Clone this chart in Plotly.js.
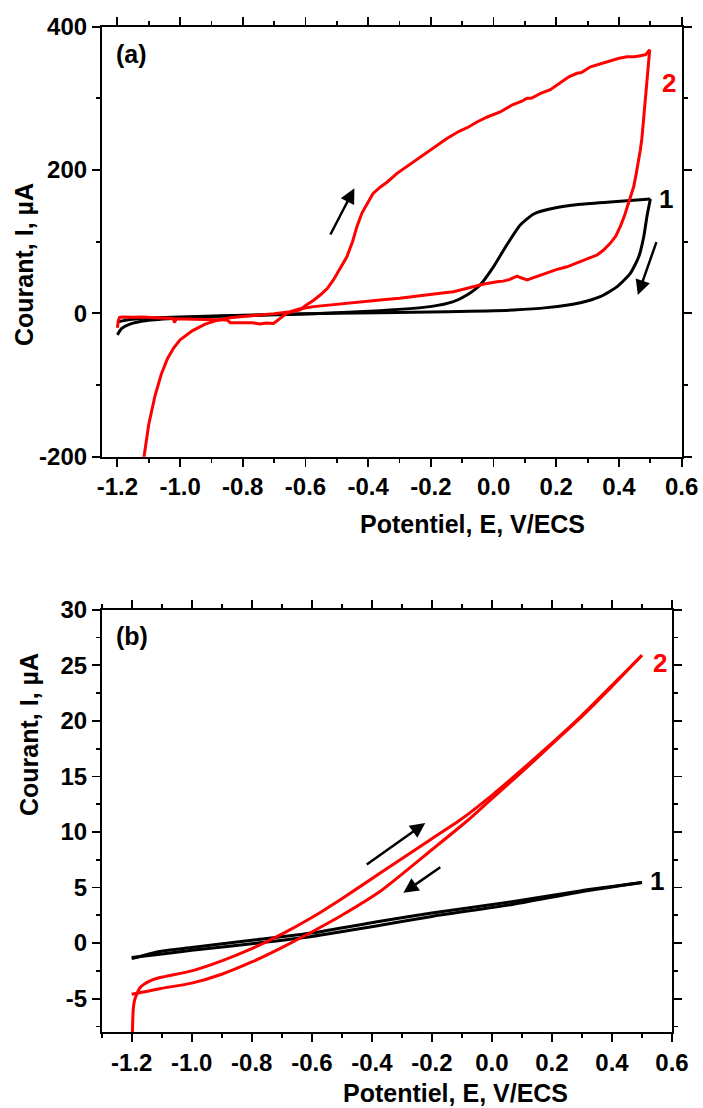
<!DOCTYPE html>
<html>
<head>
<meta charset="utf-8">
<script src="https://cdn.plot.ly/plotly-3.0.1.min.js"></script>
<style>html,body{margin:0;padding:0;background:#fff;}#chart{width:703px;height:1108px;}</style>
</head>
<body>
<div id="chart"></div>
<script>
// ---------- Panel (a) data ----------
const aBlackFwdX = [-1.200,-1.186,-1.160,-1.106,-1.000,-0.900,-0.787,-0.650,-0.500,-0.362,-0.202,-0.128,-0.085,-0.043,0.000,0.042,0.085,0.128,0.191,0.277,0.383,0.500];
const aBlackFwdY = [-30,-21,-15,-10,-6.4,-4.5,-3.2,-1.5,0.8,3.8,9.4,16.3,25.6,39.6,65.2,95.4,123.3,138.7,146.6,152.1,155.9,159.6];
const aBlackRevX = [0.500,0.489,0.479,0.463,0.436,0.394,0.340,0.277,0.170,0.064,-0.149,-0.362,-0.649,-0.894,-1.000,-1.106,-1.160,-1.197];
const aBlackRevY = [159.6,134.9,107,79.1,55.9,37.3,23.3,14.9,8.0,4.7,2.4,1.0,-0.9,-3.6,-5,-6.9,-8.5,-11.6];

const aRedFwdX = [-1.200,-1.197,-1.193,-1.180,-1.150,-1.120,-1.080,-1.040,-1.022,-1.018,-1.012,-0.990,-0.940,-0.880,-0.850,-0.840,-0.800,-0.770,-0.745,-0.725,-0.702,-0.690,-0.675,-0.660,-0.640,-0.617,-0.596,-0.575,-0.553,-0.530,-0.511,-0.490,-0.468,-0.450,-0.436,-0.420,-0.404,-0.385,-0.362,-0.340,-0.309,-0.280,-0.255,-0.220,-0.190,-0.149,-0.110,-0.080,-0.053,-0.020,0.021,0.060,0.090,0.106,0.120,0.150,0.181,0.200,0.213,0.240,0.266,0.280,0.309,0.340,0.360,0.383,0.400,0.426,0.450,0.468,0.485,0.498];
const aRedFwdY = [-20,-10,-5.5,-5,-5.5,-5.2,-6,-6.5,-7,-13,-7.5,-7.8,-8,-8.5,-9.2,-13,-13.5,-13,-14.8,-13.5,-14,-10,-4,0,2.5,5,12,18,25.6,35,46.6,62,79,100,121,140,153,167,176,183,195,204,212,222,232,244,254,260,267,274,281,291,296,300,300,307,312,318,321,330,335,336,344,348,350,354,356,358,358,359.5,361,368];
const aRedRevX = [0.498,0.495,0.492,0.488,0.484,0.478,0.473,0.468,0.463,0.455,0.447,0.431,0.418,0.404,0.390,0.372,0.350,0.330,0.300,0.277,0.250,0.234,0.200,0.170,0.140,0.107,0.085,0.075,0.064,0.050,0.030,0.011,-0.030,-0.064,-0.100,-0.128,-0.170,-0.213,-0.255,-0.300,-0.362,-0.420,-0.468,-0.520,-0.574,-0.620,-0.649,-0.700,-0.750,-0.800,-0.840,-0.880,-0.920,-0.960,-1.000,-1.020,-1.040,-1.060,-1.080,-1.100,-1.117,-1.125];
const aRedRevY = [368,352,339.5,318,293,268,244,228,214,195,177,153.5,137,121,108,97.7,88,81.4,76,72,68,65,61,56,52,46.6,50,52,50,47,45,44.2,41,37.3,34,30.3,28,25.6,23.3,21,18.7,16,14,12,9.4,6,2.4,-0.5,-2.5,-4,-6,-9.5,-15,-24,-37,-48,-63,-85,-115,-155,-200,-230];

// ---------- Panel (b) data ----------
const bBlackFwdX = [-1.200,-1.106,-1.000,-0.800,-0.600,-0.372,-0.200,0.072,0.294,0.500];
const bBlackFwdY = [-1.4,-0.75,-0.4,0.25,0.9,1.97,2.7,3.75,4.7,5.45];
const bBlackRevX = [0.500,0.294,0.072,-0.200,-0.372,-0.600,-0.800,-1.000,-1.106,-1.200];
const bBlackRevY = [5.45,4.6,3.5,2.4,1.6,0.6,-0.05,-0.65,-1.0,-1.3];

const bRedFwdX = [-1.198,-1.195,-1.190,-1.172,-1.139,-1.106,-1.000,-0.900,-0.800,-0.700,-0.600,-0.500,-0.372,-0.200,-0.105,0.000,0.100,0.200,0.300,0.400,0.500];
const bRedFwdY = [-8.5,-6.0,-5.1,-4.0,-3.4,-3.1,-2.5,-1.6,-0.5,0.8,2.3,4.0,6.3,9.4,11.1,13.3,15.6,18.0,20.5,23.2,25.9];
const bRedRevX = [0.500,0.400,0.300,0.200,0.100,0.000,-0.078,-0.200,-0.372,-0.500,-0.600,-0.700,-0.800,-0.900,-1.000,-1.106,-1.200];
const bRedRevY = [25.9,23.1,20.4,17.9,15.4,13.0,11.1,8.4,4.66,2.5,1.0,-0.4,-1.7,-2.8,-3.6,-4.1,-4.6];

// ---------- Tick labels ----------
const aXTickVals = [-1.2,-1.0,-0.8,-0.6,-0.4,-0.2,0.0,0.2,0.4,0.6];
const aXTickText = ["-1.2","-1.0","-0.8","-0.6","-0.4","-0.2","0.0","0.2","0.4","0.6"];
const aXMinorVals = [-1.1,-0.9,-0.7,-0.5,-0.3,-0.1,0.1,0.3,0.5];
const aYTickVals = [-200,0,200,400];
const aYTickText = ["-200","0","200","400"];
const aYMinorVals = [-100,100,300];
const bXTickVals = [-1.2,-1.0,-0.8,-0.6,-0.4,-0.2,0.0,0.2,0.4,0.6];
const bXTickText = ["-1.2","-1.0","-0.8","-0.6","-0.4","-0.2","0.0","0.2","0.4","0.6"];
const bXMinorVals = [-1.3,-1.1,-0.9,-0.7,-0.5,-0.3,-0.1,0.1,0.3,0.5];
const bYTickVals = [-5,0,5,10,15,20,25,30];
const bYTickText = ["-5","0","5","10","15","20","25","30"];
const bYMinorVals = [-7.5,-2.5,2.5,7.5,12.5,17.5,22.5,27.5];

const W = 703, H = 1108;
const FONT = 'Liberation Sans, Arial, Helvetica, sans-serif';
const px = v => v / W;
const py = v => 1 - v / H;

function line(x, y, color, xa, ya, shape) {
  return {x: x, y: y, xaxis: xa, yaxis: ya, type: 'scatter', mode: 'lines',
          line: {color: color, width: 3, shape: shape || 'linear', smoothing: 0.6},
          hoverinfo: 'skip'};
}

const traces = [
  line(aBlackFwdX, aBlackFwdY, '#000000', 'x', 'y', 'spline'),
  line(aBlackRevX, aBlackRevY, '#000000', 'x', 'y', 'spline'),
  line(aRedFwdX, aRedFwdY, '#ff0000', 'x', 'y'),
  line(aRedRevX, aRedRevY, '#ff0000', 'x', 'y'),
  line(bBlackFwdX, bBlackFwdY, '#000000', 'x2', 'y2', 'spline'),
  line(bBlackRevX, bBlackRevY, '#000000', 'x2', 'y2', 'spline'),
  line(bRedFwdX, bRedFwdY, '#ff0000', 'x2', 'y2', 'spline'),
  line(bRedRevX, bRedRevY, '#ff0000', 'x2', 'y2', 'spline')
];

const tickFont = {family: FONT, size: 24, color: '#000', weight: 'bold'};
function axis(extra) {
  return Object.assign({
    showline: true, linecolor: '#000', linewidth: 1.8, mirror: 'allticks',
    ticks: 'outside', ticklen: 8, tickwidth: 1.8, tickcolor: '#000',
    showgrid: false, zeroline: false, tickfont: tickFont, tickmode: 'array',
    fixedrange: true
  }, extra);
}
function minor(vals) {
  return {tickmode: 'array', tickvals: vals, ticks: 'outside', ticklen: 4, tickwidth: 1.8, tickcolor: '#000', showgrid: false};
}
const titleFont = {family: FONT, size: 25, color: '#000', weight: 'bold'};

const layout = {
  width: W, height: H,
  margin: {l: 0, r: 0, t: 0, b: 0},
  paper_bgcolor: '#fff', plot_bgcolor: '#fff',
  showlegend: false,
  xaxis: axis({domain: [px(101.7), px(681.7)], range: [-1.25, 0.6], anchor: 'y',
               tickvals: aXTickVals, ticktext: aXTickText, minor: minor(aXMinorVals)}),
  yaxis: axis({domain: [py(456.7), py(26.7)], range: [-200, 400], anchor: 'x',
               tickvals: aYTickVals, ticktext: aYTickText, minor: minor(aYMinorVals)}),
  xaxis2: axis({domain: [px(101.7), px(672)], range: [-1.3, 0.6], anchor: 'y2',
               tickvals: bXTickVals, ticktext: bXTickText, minor: minor(bXMinorVals)}),
  yaxis2: axis({domain: [py(1032), py(609.7)], range: [-8, 30], anchor: 'x2',
               tickvals: bYTickVals, ticktext: bYTickText, minor: minor(bYMinorVals)}),
  annotations: [
    // axis titles
    {text: 'Potentiel, E, V/ECS', xref: 'paper', yref: 'paper', x: px(472), y: py(524), showarrow: false,
     xanchor: 'center', yanchor: 'middle', font: titleFont},
    {text: 'Courant, I, µA', xref: 'paper', yref: 'paper', x: px(24), y: py(265), showarrow: false, textangle: -90,
     xanchor: 'center', yanchor: 'middle', font: titleFont},
    {text: 'Potentiel, E, V/ECS', xref: 'paper', yref: 'paper', x: px(455), y: py(1093), showarrow: false,
     xanchor: 'center', yanchor: 'middle', font: titleFont},
    {text: 'Courant, I, µA', xref: 'paper', yref: 'paper', x: px(29), y: py(735), showarrow: false, textangle: -90,
     xanchor: 'center', yanchor: 'middle', font: titleFont},
    // panel labels
    {text: '(a)', xref: 'x', yref: 'y', x: -1.156, y: 362, showarrow: false, xanchor: 'center', yanchor: 'middle',
     font: {family: FONT, size: 25, color: '#000', weight: 'bold'}},
    {text: '(b)', xref: 'x2', yref: 'y2', x: -1.2, y: 27.6, showarrow: false, xanchor: 'center', yanchor: 'middle',
     font: {family: FONT, size: 25, color: '#000', weight: 'bold'}},
    // curve labels
    {text: '1', xref: 'x', yref: 'y', x: 0.55, y: 160, showarrow: false, xanchor: 'center', yanchor: 'middle',
     font: {family: FONT, size: 26, color: '#000', weight: 'bold'}},
    {text: '2', xref: 'x', yref: 'y', x: 0.558, y: 321, showarrow: false, xanchor: 'center', yanchor: 'middle',
     font: {family: FONT, size: 26, color: '#ff0000', weight: 'bold'}},
    {text: '1', xref: 'x2', yref: 'y2', x: 0.55, y: 5.6, showarrow: false, xanchor: 'center', yanchor: 'middle',
     font: {family: FONT, size: 26, color: '#000', weight: 'bold'}},
    {text: '2', xref: 'x2', yref: 'y2', x: 0.561, y: 25.2, showarrow: false, xanchor: 'center', yanchor: 'middle',
     font: {family: FONT, size: 26, color: '#ff0000', weight: 'bold'}},
    // arrows
    {text: '', xref: 'x', yref: 'y', axref: 'x', ayref: 'y', x: -0.444, y: 174.5, ax: -0.523, ay: 108,
     showarrow: true, arrowhead: 2, arrowsize: 1.2, arrowwidth: 2.5, arrowcolor: '#000'},
    {text: '', xref: 'x', yref: 'y', axref: 'x', ayref: 'y', x: 0.46, y: 25.6, ax: 0.521, ay: 101.4,
     showarrow: true, arrowhead: 2, arrowsize: 1.2, arrowwidth: 2.5, arrowcolor: '#000'},
    {text: '', xref: 'x2', yref: 'y2', axref: 'x2', ayref: 'y2', x: -0.222, y: 10.8, ax: -0.422, ay: 6.97,
     showarrow: true, arrowhead: 2, arrowsize: 1.2, arrowwidth: 2.5, arrowcolor: '#000'},
    {text: '', xref: 'x2', yref: 'y2', axref: 'x2', ayref: 'y2', x: -0.295, y: 4.52, ax: -0.167, ay: 6.91,
     showarrow: true, arrowhead: 2, arrowsize: 1.2, arrowwidth: 2.5, arrowcolor: '#000'}
  ]
};

Plotly.newPlot('chart', traces, layout, {staticPlot: true, displayModeBar: false});
</script>
</body>
</html>
